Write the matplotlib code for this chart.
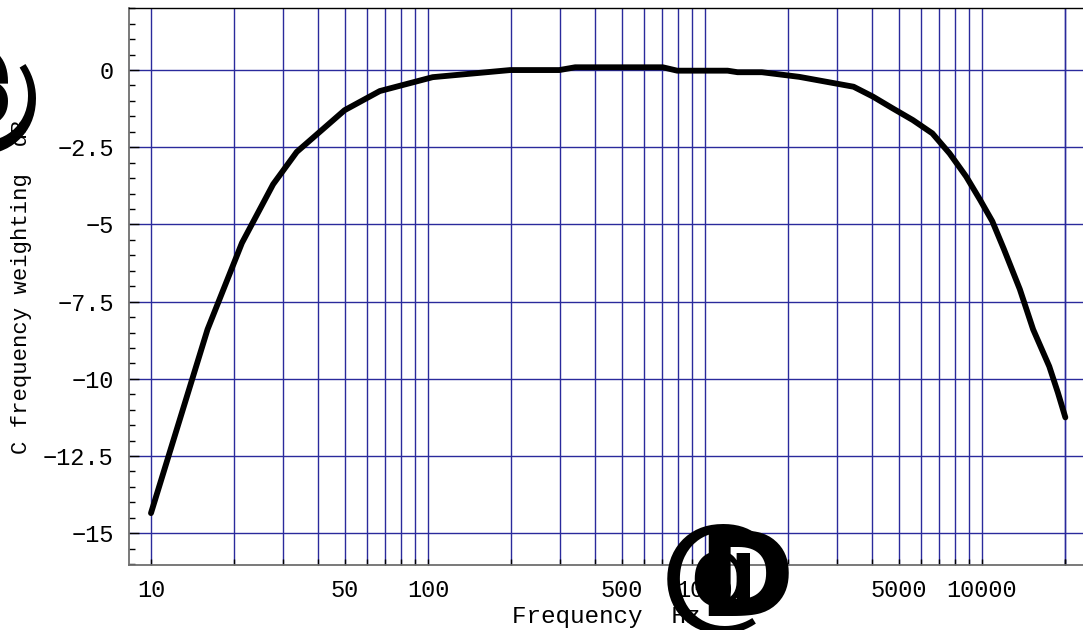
import numpy as np
import matplotlib.pyplot as plt
from matplotlib.ticker import FixedLocator, NullFormatter, MultipleLocator

# C weighting curve, sample points
freqs = [10, 16, 21.3, 27.6, 33.6, 50, 67, 104, 198, 298, 340, 704, 794,
         1207, 1311, 1605, 2190, 3440, 4040, 4760, 5630, 6620, 7640, 8770,
         9840, 10900, 12000, 13700, 15300, 17500, 18800, 20000]
c_weight = [-14.35, -8.4, -5.6, -3.7, -2.65, -1.3, -0.68, -0.23, 0.0, 0.0,
            0.09, 0.09, -0.02, -0.02, -0.07, -0.07, -0.22, -0.54, -0.86,
            -1.24, -1.62, -2.05, -2.7, -3.45, -4.2, -4.9, -5.8, -7.1, -8.4,
            -9.6, -10.45, -11.25]

x_labels = [10, 50, 100, 500, 1000, 5000, 10000]
y_major = [-15, -12.5, -10, -7.5, -5, -2.5, 0]
y_labels = ['\u221215', '\u221212.5', '\u221210', '\u22127.5', '\u22125', '\u22122.5', '0']

W, H = 1083, 630
fig = plt.figure(figsize=(W / 100, H / 100), dpi=100)
ax = fig.add_axes([129 / W, 1 - 565 / H, 1 - 129 / W, (565 - 8) / H])

mono = 'Liberation Mono'
grid_col = '#2a2a9c'

# grid lines
vlines = [m * 10 ** e for e in range(1, 5) for m in range(1, 10)] + [20000]
for v in vlines:
    ax.axvline(v, color=grid_col, lw=1.0, zorder=1)
for h in y_major:
    ax.axhline(h, color=grid_col, lw=1.0, zorder=1)

ax.plot(freqs, c_weight, color='black', lw=4.2, solid_joinstyle='round',
        solid_capstyle='round', zorder=3)

ax.set_xscale('log')
ax.set_xlim(8.33, 23160)
ax.set_ylim(-16.03, 2.01)

ax.xaxis.set_major_locator(FixedLocator(x_labels))
ax.set_xticklabels([str(v) for v in x_labels], fontfamily=mono, fontsize=17)
ax.xaxis.set_minor_locator(FixedLocator(vlines))
ax.xaxis.set_minor_formatter(NullFormatter())
ax.set_yticks(y_major)
ax.set_yticklabels(y_labels, fontfamily=mono, fontsize=17)
ax.yaxis.set_minor_locator(MultipleLocator(0.5))

ax.tick_params(axis='both', which='both', direction='in', color='black',
               width=1.0)
ax.tick_params(axis='x', which='major', length=4, pad=10)
ax.tick_params(axis='x', which='minor', length=4)
ax.tick_params(axis='y', which='major', length=7, pad=11)
ax.tick_params(axis='y', which='minor', length=4)

for s in ['left', 'bottom']:
    ax.spines[s].set_color('#6e6e6e')
    ax.spines[s].set_linewidth(1.3)
ax.spines['top'].set_color('black')
ax.spines['top'].set_linewidth(1.0)
ax.spines['right'].set_visible(False)

# axis labels (bracket glyphs came out as big @ and D in the original)
fig.text(606 / W, 1 - 616 / H, 'Frequency  Hz', fontfamily=mono, fontsize=17.5,
         ha='center', va='center')
fig.text(22 / W, 1 - 287 / H, 'C frequency weighting  dB', fontfamily=mono,
         fontsize=16, rotation=90, ha='center', va='center')

fig.text(721 / W, 1 - 578 / H, '@', fontfamily='DejaVu Serif', fontsize=90,
         fontweight='bold', ha='center', va='center', zorder=5)
fig.text(746 / W, 1 - 584 / H, 'D', fontfamily='DejaVu Sans', fontsize=84,
         fontweight='bold', ha='center', va='center', zorder=5)
fig.text(-28 / W, 1 - 90 / H, '@', fontfamily='DejaVu Serif', fontsize=92,
         fontweight='bold', rotation=90, ha='center', va='center', zorder=5)

fig.savefig('out.png', dpi=100)
